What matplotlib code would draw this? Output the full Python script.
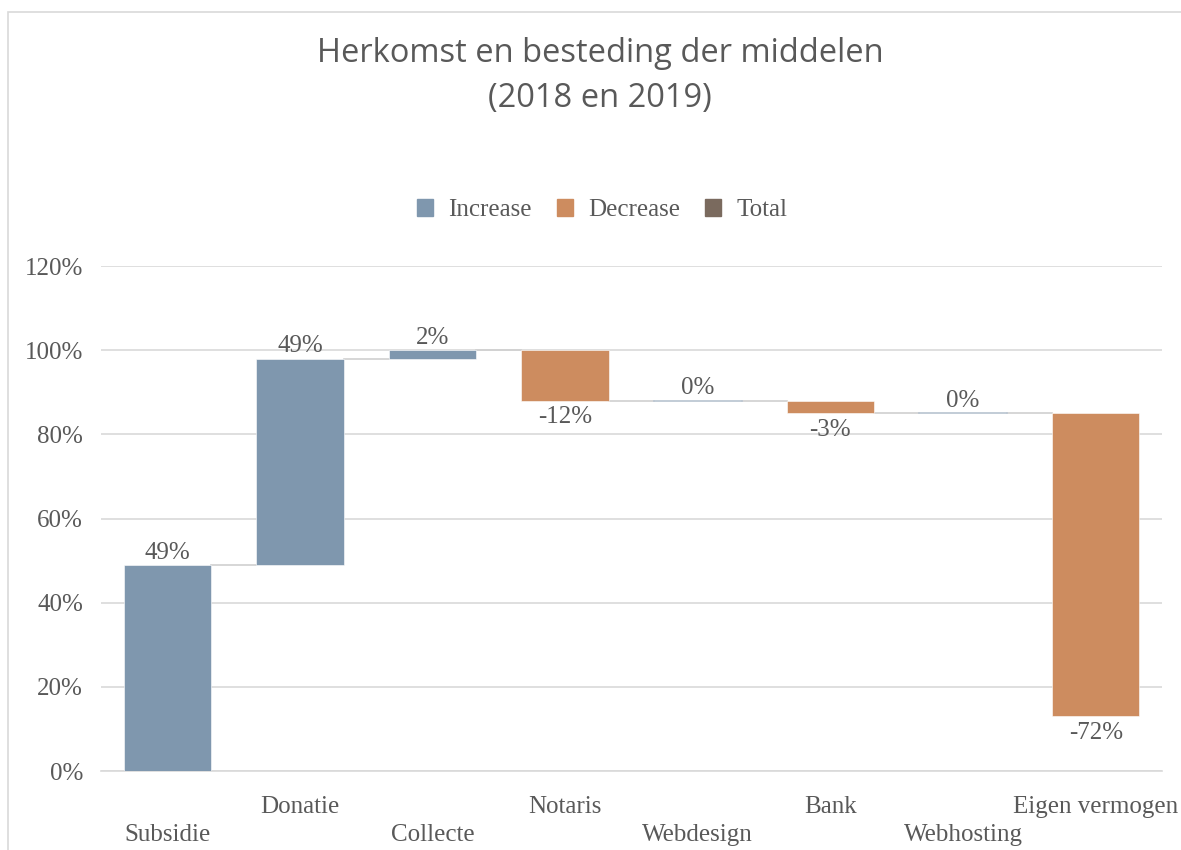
import numpy as np
import matplotlib
matplotlib.use("Agg")
import matplotlib.pyplot as plt
from matplotlib.patches import Patch, Rectangle

# waterfall data
categories = ["Subsidie", "Donatie", "Collecte", "Notaris", "Webdesign",
              "Bank", "Webhosting", "Eigen vermogen"]
changes = [49, 49, 2, -12, 0, -3, 0, -72]
labels = ["49%", "49%", "2%", "-12%", "0%", "-3%", "0%", "-72%"]
yticks = [0, 20, 40, 60, 80, 100, 120]

c_inc = "#7f97ae"
c_dec = "#cd8c5f"
c_tot = "#7a6a5e"
txt = "#595959"
grid = "#d9d9d9"
serif = ["Liberation Serif", "DejaVu Serif"]
fs = 18

ends = np.cumsum(changes)
starts = ends - np.array(changes)
x = np.arange(len(categories))
w = 0.66

fig = plt.figure(figsize=(11.81, 8.5), dpi=100)
# outer chart border (cropped on right/bottom)
fig.patches.append(Rectangle((8/1181, -0.1), 1.2, 1 - 12/850 + 0.1, transform=fig.transFigure,
                             fill=False, edgecolor="#d9d9d9", lw=1.2))

ax = fig.add_axes([101/1181, 1 - 771/850, (1162 - 101)/1181, (771 - 266)/850])

for i in range(len(categories)):
    col = c_inc if changes[i] >= 0 else c_dec
    lo = min(starts[i], ends[i])
    h = abs(changes[i])
    if h == 0:
        ax.plot([x[i] - w/2, x[i] + w/2], [ends[i], ends[i]], color="#b8c4d0", lw=1.2, zorder=3)
    else:
        ax.bar(x[i], h, bottom=lo, width=w, color=col, edgecolor="white", linewidth=0.4, zorder=3)
    # connector
    if i < len(categories) - 1:
        ax.plot([x[i] + w/2, x[i + 1] - w/2], [ends[i], ends[i]], color="#d0d0d0", lw=1.2, zorder=2)
    if changes[i] >= 0:
        ax.text(x[i], max(starts[i], ends[i]) + 0.3, labels[i], ha="center", va="bottom",
                fontsize=fs, color=txt, family=serif, zorder=4)
    else:
        ax.text(x[i], lo - 1.3, labels[i], ha="center", va="top",
                fontsize=fs, color=txt, family=serif, zorder=4)

ax.set_xlim(-0.5, len(categories) - 0.5)
ax.set_ylim(0, 120)
ax.set_yticks(yticks)
ax.set_yticklabels([f"{v}%" for v in yticks], family=serif, fontsize=fs, color=txt)
ax.yaxis.grid(True, color=grid, lw=1.2, zorder=0)
ax.set_axisbelow(True)
for s in ["top", "right", "left"]:
    ax.spines[s].set_visible(False)
ax.spines["bottom"].set_color(grid)
ax.spines["bottom"].set_linewidth(1.2)
ax.tick_params(axis="y", length=0, pad=13)
ax.tick_params(axis="x", length=0)
ax.set_xticks([])

# staggered category labels
for i, name in enumerate(categories):
    yy = -8.6 if i % 2 == 1 else -15.2
    ax.text(x[i], yy, name, ha="center", va="center", fontsize=fs, color=txt,
            family=serif, clip_on=False)

fig.text(0.508, 1 - 76/850, "Herkomst en besteding der middelen\n(2018 en 2019)",
         ha="center", va="center", fontsize=23.5, color=txt, family=["Open Sans", "DejaVu Sans"],
         linespacing=1.5)

handles = [Patch(color=c_inc, label="Increase"), Patch(color=c_dec, label="Decrease"),
           Patch(color=c_tot, label="Total")]
fig.legend(handles=handles, loc="center", bbox_to_anchor=(0.51, 1 - 210/850), ncol=3,
           frameon=False, prop={"family": serif, "size": fs}, labelcolor=txt,
           handlelength=0.65, handleheight=0.65, handletextpad=0.6, columnspacing=1.0)

fig.savefig("out.png", dpi=100, facecolor="white")
